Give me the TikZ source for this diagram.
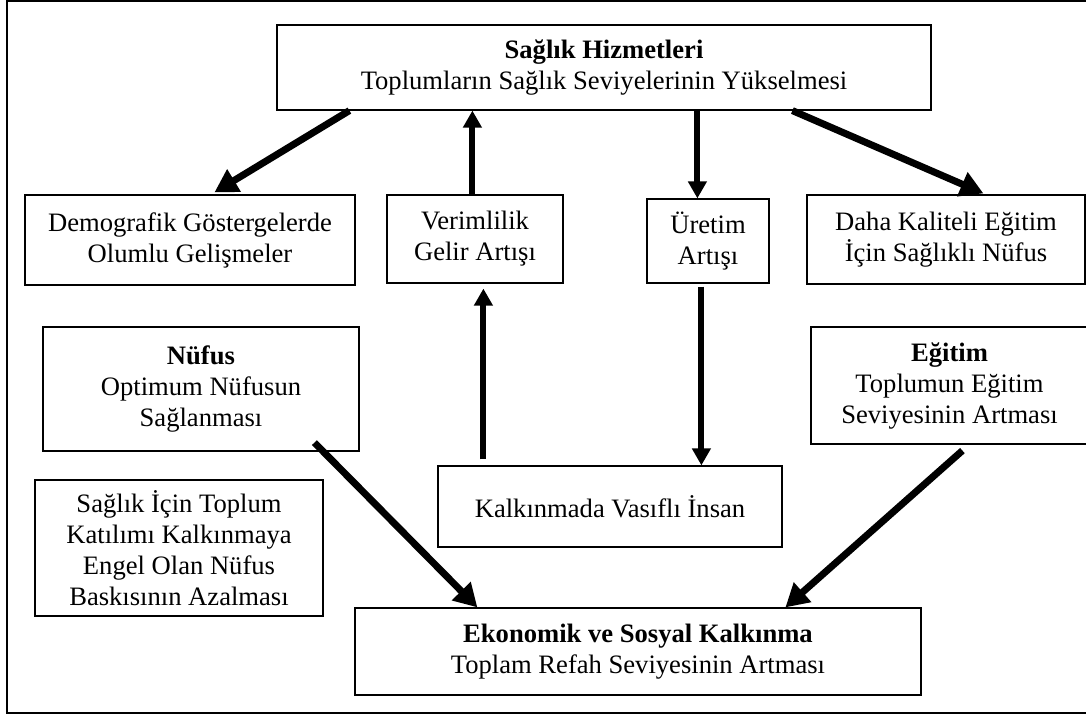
\documentclass[tikz,border=0pt]{standalone}
\usepackage{fontspec}
\setmainfont{Liberation Serif}
\usetikzlibrary{arrows.meta}
\begin{document}
\begin{tikzpicture}[x=1pt,y=-1pt,
  box/.style={draw,line width=1.2pt,inner sep=0pt,align=center,
    font=\fontsize{26.6}{31}\selectfont},
  diag/.style={line width=7pt,-{Triangle[length=23pt,width=25pt]}},
  vert/.style={line width=6pt,-{Triangle[length=17pt,width=18pt]}}]
\useasboundingbox (0,0) rectangle (1086,715);
\clip (0,0) rectangle (1086,715);
\draw[line width=1.5pt] (7,1) rectangle (1100,713);
\node[box,minimum width=654pt,minimum height=85pt] (top) at (604,67.5)
  {\textbf{Sağlık Hizmetleri}\\Toplumların Sağlık Seviyelerinin Yükselmesi};
\node[box,minimum width=330pt,minimum height=90pt] (demo) at (190,240)
  {Demografik Göstergelerde\\Olumlu Gelişmeler};
\node[box,minimum width=176pt,minimum height=88pt] (verim) at (475,239)
  {Verimlilik\\Gelir Artışı};
\node[box,minimum width=122pt,minimum height=84pt] (uretim) at (708,241)
  {Üretim\\Artışı};
\node[box,minimum width=278pt,minimum height=89pt] (daha) at (946,239.5)
  {Daha Kaliteli Eğitim\\İçin Sağlıklı Nüfus};
\node[box,minimum width=316pt,minimum height=124pt] (nufus) at (201,389)
  {\textbf{Nüfus}\\Optimum Nüfusun\\Sağlanması};
\node[box,minimum width=288pt,minimum height=136pt] (katilim) at (179,548)
  {Sağlık İçin Toplum\\Katılımı Kalkınmaya\\Engel Olan Nüfus\\Baskısının Azalması};
\node[box,minimum width=344pt,minimum height=81pt] (kalk) at (610,506.5)
  {Kalkınmada Vasıflı İnsan};
\node[box,minimum width=277pt,minimum height=117pt] (egitim) at (949.5,385.5)
  {\textbf{Eğitim}\\Toplumun Eğitim\\Seviyesinin Artması};
\node[box,minimum width=566pt,minimum height=87pt] (ekon) at (638,651.5)
  {\textbf{Ekonomik ve Sosyal Kalkınma}\\Toplam Refah Seviyesinin Artması};
% connectors
\draw[diag] ([xshift=73pt]top.south west) -- ([xshift=190pt,yshift=2pt]demo.north west);
\draw[vert] ([xshift=86pt]verim.north west) -- ([xshift=196pt]top.south west);
\draw[vert] ([xshift=421pt]top.south west) -- ([xshift=51pt]uretim.north west);
\draw[diag] ([xshift=516pt]top.south west) -- ([xshift=177pt,yshift=1pt]daha.north west);
\draw[vert] ([xshift=46pt,yshift=6pt]kalk.north west) -- ([xshift=97pt,yshift=-5pt]verim.south west);
\draw[vert] ([xshift=55pt,yshift=-3pt]uretim.south west) -- ([xshift=264pt]kalk.north west);
\draw[diag] ([xshift=272pt,yshift=9pt]nufus.south west) -- ([xshift=123pt]ekon.north west);
\draw[diag] ([xshift=152pt,yshift=-6pt]egitim.south west) -- ([xshift=431pt]ekon.north west);
\end{tikzpicture}
\end{document}
